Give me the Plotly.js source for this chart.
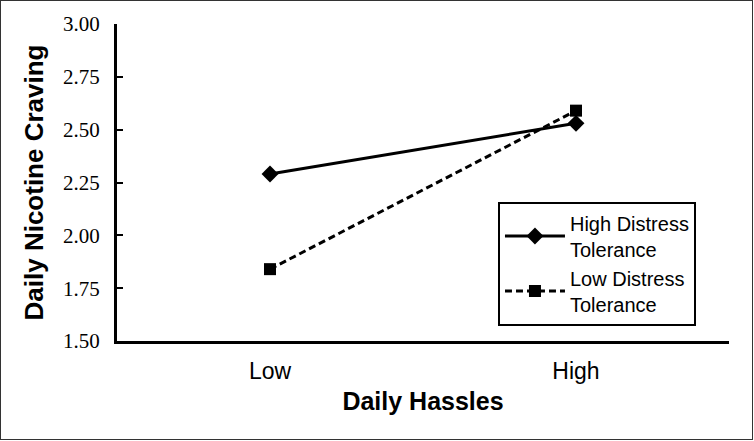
<!DOCTYPE html>
<html>
<head>
<meta charset="utf-8">
<script src="https://cdn.plot.ly/plotly-3.0.1.min.js"></script>
<style>
  html, body { margin: 0; padding: 0; background: #fff; }
  #wrap { position: relative; width: 754px; height: 441px; }
  #chart { position: absolute; left: 0; top: 0; width: 754px; height: 441px; }
  #frame { position: absolute; left: 0; top: 0; width: 751px; height: 438px;
           border: 1.5px solid #333; pointer-events: none; }
</style>
</head>
<body>
<div id="wrap">
  <div id="chart"></div>
  <div id="frame"></div>
</div>
<script>
// x categories and the two distress tolerance groups
const hassles = ['Low', 'High'];
const highDistressTol = [2.29, 2.53];
const lowDistressTol = [1.84, 2.59];
const yTicks = [1.50, 1.75, 2.00, 2.25, 2.50, 2.75, 3.00];

const traces = [
    {
        x: hassles,
        y: highDistressTol,
        name: 'High Distress<br>Tolerance',
        type: 'scatter',
        mode: 'lines+markers',
        line: { color: '#000', width: 3 },
        marker: { symbol: 'diamond', size: 13, color: '#000' }
    },
    {
        x: hassles,
        y: lowDistressTol,
        name: 'Low Distress<br>Tolerance',
        type: 'scatter',
        mode: 'lines+markers',
        line: { color: '#000', width: 3, dash: '7px,4px' },
        marker: { symbol: 'square', size: 12, color: '#000' }
    }
];

const layout = {
    width: 754,
    height: 441,
    margin: { l: 117, r: 25, t: 23.5, b: 99.5 },
    paper_bgcolor: '#fff',
    plot_bgcolor: '#fff',
    showlegend: true,
    xaxis: {
        type: 'category',
        range: [-0.5, 1.5],
        showgrid: false,
        zeroline: false,
        showline: true,
        linecolor: '#000',
        linewidth: 3,
        ticks: '',
        ticklabelstandoff: 7,
        tickfont: { family: 'Liberation Sans', size: 23, color: '#000' },
        title: {
            text: '<b>Daily Hassles</b>',
            font: { family: 'Liberation Sans', size: 25, color: '#000' },
            standoff: 10
        }
    },
    yaxis: {
        range: [1.5, 3.0],
        tickvals: yTicks,
        ticktext: yTicks.map(v => v.toFixed(2)),
        showgrid: false,
        zeroline: false,
        showline: true,
        linecolor: '#000',
        linewidth: 3,
        ticks: 'inside',
        ticklen: 6,
        tickwidth: 2,
        tickcolor: '#000',
        ticklabelstandoff: 10,
        tickfont: { family: '"Liberation Serif", "Times New Roman", serif', size: 21, color: '#000' },
        title: {
            text: '<b>Daily Nicotine Craving</b>',
            font: { family: 'Liberation Sans', size: 26, color: '#000' },
            standoff: 12
        }
    },
    legend: {
        x: 0.6225,
        y: 0.44,
        xanchor: 'left',
        yanchor: 'top',
        bgcolor: '#fff',
        bordercolor: '#000',
        borderwidth: 2,
        itemwidth: 60,
        tracegroupgap: 2,
        font: { family: 'Liberation Sans', size: 20, color: '#000' }
    }
};

Plotly.newPlot('chart', traces, layout, { staticPlot: true, displayModeBar: false });
</script>
</body>
</html>
